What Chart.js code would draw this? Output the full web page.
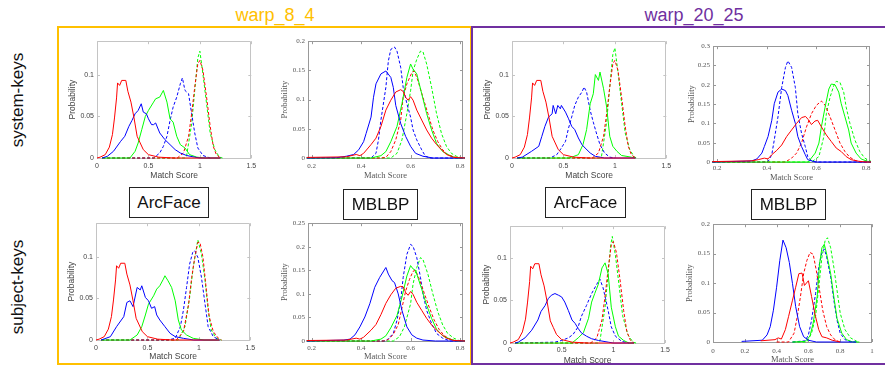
<!DOCTYPE html>
<html>
<head>
<meta charset="utf-8">
<script src="https://cdn.jsdelivr.net/npm/chart.js@4.4.1/dist/chart.umd.min.js"></script>
<style>
  body { margin: 0; width: 885px; height: 365px; background: #fff; position: relative; overflow: hidden;
         font-family: "Liberation Sans", Arial, sans-serif; }
  .abs { position: absolute; }
  .group { position: absolute; box-sizing: border-box; border: 2px solid; }
  .head { position: absolute; width: 200px; text-align: center; font-size: 18px; line-height: 22px; }
  .side { position: absolute; width: 140px; height: 22px; line-height: 22px; text-align: center;
          font-size: 17px; color: #111; transform: rotate(-90deg); }
  .tag { position: absolute; box-sizing: border-box; border: 1px solid #222; background: #fff;
         font-size: 17px; color: #111; text-align: center; z-index: 5; }
  canvas { position: absolute; }
</style>
</head>
<body>

<div class="group" style="left:57px;top:26px;width:415px;height:339px;border-color:#FFC000"></div>
<div class="group" style="left:471px;top:26px;width:430px;height:339px;border-color:#7030A0"></div>
<div class="head" style="left:175px;top:4px;color:#FFC000">warp_8_4</div>
<div class="head" style="left:594px;top:4px;color:#7030A0">warp_20_25</div>
<div class="side" style="left:-52px;top:89px">system-keys</div>
<div class="side" style="left:-52px;top:276px">subject-keys</div>
<div class="tag" style="left:129px;top:187px;width:80px;height:31px;line-height:29px">ArcFace</div>
<div class="tag" style="left:343px;top:189px;width:75px;height:31px;line-height:29px">MBLBP</div>
<div class="tag" style="left:545px;top:187px;width:81px;height:31px;line-height:29px">ArcFace</div>
<div class="tag" style="left:751px;top:189px;width:75px;height:31px;line-height:29px">MBLBP</div>

<script>
// Ticks
const arcXTicks = [0, 0.5, 1, 1.5];
const arcYTicks = [0, 0.05, 0.1];
const lbpXTicks = [0.2, 0.4, 0.6, 0.8];
const lbpXTicksWide = [0, 0.2, 0.4, 0.6, 0.8, 1];
const lbpYTicks20 = [0, 0.05, 0.1, 0.15, 0.2];
const lbpYTicks25 = [0, 0.05, 0.1, 0.15, 0.2, 0.25];
const lbpYTicks30 = [0, 0.05, 0.1, 0.15, 0.2, 0.25, 0.3];

// warp_8_4, system-keys, ArcFace
const a84sysRed = [[0,0],[0.03,0.001],[0.08,0.004],[0.12,0.013],[0.15,0.028],[0.17,0.048],[0.19,0.072],[0.2,0.09],[0.22,0.087],[0.24,0.093],[0.28,0.093],[0.3,0.08],[0.33,0.067],[0.36,0.048],[0.39,0.026],[0.42,0.018],[0.45,0.01],[0.5,0.004],[0.6,0.001],[0.75,0],[1.2,0]];
const a84sysBlue = [[0.05,0],[0.1,0.002],[0.16,0.008],[0.23,0.02],[0.27,0.026],[0.31,0.038],[0.34,0.045],[0.37,0.053],[0.4,0.057],[0.43,0.065],[0.45,0.055],[0.48,0.053],[0.5,0.047],[0.53,0.04],[0.55,0.04],[0.57,0.042],[0.61,0.03],[0.66,0.022],[0.71,0.016],[0.76,0.01],[0.81,0.006],[0.87,0.003],[0.95,0.001],[1.0,0],[1.2,0]];
const a84sysGreen = [[0.05,0],[0.32,0],[0.37,0.008],[0.4,0.018],[0.435,0.034],[0.47,0.05],[0.5,0.057],[0.55,0.067],[0.57,0.071],[0.61,0.073],[0.645,0.081],[0.68,0.067],[0.71,0.047],[0.74,0.043],[0.775,0.026],[0.81,0.016],[0.855,0.012],[0.9,0.004],[0.97,0.001],[1.05,0],[1.2,0]];
const a84sysRedD = [[0.05,0],[0.78,0],[0.84,0.006],[0.89,0.026],[0.92,0.053],[0.95,0.085],[0.98,0.113],[1.0,0.117],[1.03,0.105],[1.065,0.073],[1.1,0.038],[1.13,0.014],[1.16,0.004],[1.2,0]];
const a84sysBlueD = [[0.05,0],[0.55,0],[0.61,0.006],[0.645,0.014],[0.68,0.026],[0.71,0.045],[0.74,0.061],[0.775,0.073],[0.81,0.089],[0.83,0.096],[0.855,0.081],[0.89,0.077],[0.92,0.053],[0.95,0.03],[0.98,0.012],[1.03,0.003],[1.1,0]];
const a84sysGreenD = [[0.05,0],[0.85,0],[0.87,0.002],[0.92,0.041],[0.95,0.081],[0.98,0.12],[1.0,0.128],[1.03,0.1],[1.065,0.065],[1.1,0.03],[1.145,0.01],[1.19,0.001],[1.22,0]];

// warp_8_4, subject-keys, ArcFace
const a84subRed = [[0,0],[0.03,0.001],[0.08,0.004],[0.12,0.013],[0.15,0.028],[0.17,0.048],[0.19,0.072],[0.2,0.089],[0.22,0.086],[0.24,0.092],[0.28,0.092],[0.3,0.079],[0.33,0.066],[0.36,0.047],[0.39,0.026],[0.42,0.018],[0.45,0.01],[0.5,0.004],[0.6,0.001],[0.75,0],[1.2,0]];
const a84subBlue = [[0.05,0],[0.14,0.004],[0.2,0.016],[0.27,0.028],[0.3,0.045],[0.33,0.047],[0.36,0.04],[0.4,0.063],[0.43,0.06],[0.445,0.065],[0.48,0.051],[0.51,0.047],[0.54,0.038],[0.57,0.04],[0.59,0.03],[0.62,0.024],[0.67,0.016],[0.72,0.008],[0.77,0.004],[0.85,0.002],[0.95,0],[1.2,0]];
const a84subGreen = [[0.05,0],[0.33,0],[0.4,0.006],[0.445,0.016],[0.48,0.03],[0.51,0.043],[0.56,0.053],[0.59,0.061],[0.62,0.065],[0.655,0.073],[0.67,0.077],[0.7,0.071],[0.735,0.063],[0.77,0.047],[0.8,0.024],[0.83,0.012],[0.88,0.006],[0.945,0.002],[1.05,0],[1.2,0]];
const a84subRedD = [[0.05,0],[0.78,0],[0.85,0.01],[0.9,0.043],[0.93,0.075],[0.96,0.099],[0.99,0.117],[1.01,0.117],[1.04,0.099],[1.07,0.063],[1.1,0.028],[1.14,0.01],[1.19,0.002],[1.22,0]];
const a84subBlueD = [[0.05,0],[0.7,0],[0.77,0.002],[0.82,0.016],[0.85,0.036],[0.88,0.063],[0.91,0.091],[0.94,0.105],[0.96,0.107],[0.99,0.099],[1.025,0.075],[1.06,0.043],[1.09,0.016],[1.14,0.004],[1.2,0]];
const a84subGreenD = [[0.05,0],[0.8,0],[0.865,0.016],[0.91,0.051],[0.945,0.087],[0.98,0.113],[0.99,0.12],[1.025,0.103],[1.06,0.071],[1.09,0.036],[1.12,0.012],[1.17,0.002],[1.22,0]];

// warp_20_25, system-keys, ArcFace
const a2025sysRed = [[0,0],[0.03,0.001],[0.08,0.004],[0.12,0.013],[0.15,0.028],[0.17,0.048],[0.19,0.072],[0.2,0.09],[0.22,0.087],[0.24,0.093],[0.28,0.093],[0.3,0.08],[0.33,0.067],[0.36,0.048],[0.39,0.026],[0.42,0.018],[0.45,0.01],[0.5,0.004],[0.6,0.001],[0.75,0],[1.2,0]];
const a2025sysBlue = [[0.05,0],[0.1,0.001],[0.19,0.008],[0.26,0.014],[0.29,0.026],[0.32,0.038],[0.355,0.049],[0.39,0.053],[0.4,0.063],[0.425,0.053],[0.445,0.063],[0.47,0.059],[0.48,0.063],[0.52,0.055],[0.55,0.047],[0.58,0.038],[0.61,0.034],[0.645,0.024],[0.68,0.016],[0.71,0.012],[0.76,0.006],[0.81,0.002],[0.9,0],[1.2,0]];
const a2025sysGreen = [[0.05,0],[0.55,0],[0.58,0.001],[0.645,0.004],[0.69,0.016],[0.725,0.034],[0.76,0.065],[0.79,0.077],[0.81,0.1],[0.84,0.093],[0.855,0.103],[0.89,0.083],[0.92,0.061],[0.95,0.026],[0.98,0.014],[1.02,0.008],[1.065,0.003],[1.16,0.001],[1.2,0]];
const a2025sysRedD = [[0.05,0],[0.78,0],[0.84,0.006],[0.89,0.026],[0.92,0.053],[0.95,0.085],[0.98,0.113],[1.0,0.117],[1.03,0.105],[1.065,0.073],[1.1,0.038],[1.13,0.014],[1.16,0.004],[1.2,0]];
const a2025sysBlueD = [[0.05,0],[0.37,0],[0.435,0.004],[0.48,0.012],[0.52,0.02],[0.55,0.036],[0.58,0.049],[0.61,0.063],[0.645,0.073],[0.68,0.079],[0.7,0.085],[0.725,0.079],[0.76,0.057],[0.79,0.043],[0.82,0.03],[0.855,0.016],[0.9,0.006],[0.95,0.001],[1.0,0]];
const a2025sysGreenD = [[0.05,0],[0.85,0],[0.87,0.002],[0.92,0.043],[0.95,0.085],[0.98,0.124],[1.0,0.132],[1.03,0.103],[1.065,0.066],[1.1,0.03],[1.145,0.01],[1.19,0.001],[1.22,0]];

// warp_20_25, subject-keys, ArcFace
const a2025subRed = [[0,0],[0.03,0.001],[0.08,0.004],[0.12,0.013],[0.15,0.028],[0.17,0.048],[0.19,0.072],[0.2,0.09],[0.22,0.087],[0.24,0.093],[0.28,0.093],[0.3,0.08],[0.33,0.067],[0.36,0.048],[0.39,0.026],[0.42,0.018],[0.45,0.01],[0.5,0.004],[0.6,0.001],[0.75,0],[1.2,0]];
const a2025subBlue = [[0.05,0],[0.08,0.001],[0.145,0.006],[0.21,0.015],[0.27,0.027],[0.3,0.037],[0.34,0.044],[0.37,0.052],[0.4,0.056],[0.435,0.058],[0.47,0.056],[0.5,0.054],[0.53,0.048],[0.565,0.038],[0.6,0.027],[0.63,0.023],[0.66,0.017],[0.69,0.012],[0.74,0.008],[0.79,0.005],[0.855,0.003],[0.95,0.001],[1.0,0],[1.2,0]];
const a2025subGreen = [[0.05,0],[0.6,0],[0.66,0.006],[0.71,0.012],[0.76,0.029],[0.79,0.048],[0.82,0.058],[0.855,0.069],[0.89,0.088],[0.92,0.094],[0.95,0.081],[0.98,0.042],[1.02,0.019],[1.05,0.008],[1.1,0.003],[1.15,0],[1.2,0]];
const a2025subRedD = [[0.05,0],[0.78,0],[0.84,0.006],[0.89,0.027],[0.92,0.055],[0.95,0.087],[0.98,0.115],[1.0,0.119],[1.03,0.106],[1.065,0.074],[1.1,0.038],[1.13,0.014],[1.16,0.004],[1.2,0]];
const a2025subBlueD = [[0.05,0],[0.435,0.001],[0.5,0.003],[0.565,0.006],[0.61,0.01],[0.66,0.019],[0.69,0.031],[0.74,0.044],[0.79,0.058],[0.84,0.069],[0.87,0.075],[0.9,0.065],[0.925,0.052],[0.95,0.038],[0.98,0.019],[1.02,0.008],[1.08,0.002],[1.15,0]];
const a2025subGreenD = [[0.05,0],[0.85,0],[0.87,0.002],[0.92,0.042],[0.95,0.082],[0.975,0.115],[0.99,0.125],[1.02,0.103],[1.055,0.068],[1.09,0.032],[1.14,0.01],[1.19,0.001],[1.22,0]];

// warp_8_4, system-keys, MBLBP
const m84sysRed = [[0.18,0.001],[0.34,0.002],[0.38,0.006],[0.395,0.004],[0.41,0.008],[0.44,0.023],[0.46,0.034],[0.48,0.054],[0.5,0.082],[0.52,0.099],[0.54,0.113],[0.56,0.117],[0.57,0.114],[0.58,0.104],[0.59,0.099],[0.6,0.105],[0.61,0.099],[0.625,0.082],[0.645,0.065],[0.665,0.048],[0.685,0.034],[0.705,0.023],[0.725,0.014],[0.745,0.006],[0.775,0.001],[0.82,0]];
const m84sysBlue = [[0.18,0],[0.3,0.0005],[0.34,0.003],[0.37,0.006],[0.39,0.014],[0.41,0.028],[0.42,0.042],[0.44,0.07],[0.45,0.104],[0.46,0.127],[0.48,0.144],[0.5,0.149],[0.52,0.138],[0.53,0.121],[0.54,0.09],[0.56,0.059],[0.58,0.037],[0.6,0.02],[0.62,0.008],[0.65,0.003],[0.69,0],[0.82,0]];
const m84sysGreen = [[0.18,0],[0.44,0],[0.48,0.004],[0.5,0.011],[0.52,0.028],[0.545,0.054],[0.565,0.093],[0.585,0.138],[0.6,0.161],[0.61,0.152],[0.625,0.144],[0.645,0.11],[0.665,0.076],[0.685,0.048],[0.705,0.025],[0.73,0.011],[0.76,0.004],[0.785,0],[0.82,0]];
const m84sysRedD = [[0.18,0],[0.48,0],[0.5,0.001],[0.52,0.011],[0.54,0.031],[0.56,0.065],[0.57,0.104],[0.585,0.127],[0.605,0.146],[0.615,0.149],[0.63,0.132],[0.65,0.104],[0.67,0.076],[0.69,0.048],[0.71,0.028],[0.73,0.014],[0.75,0.006],[0.775,0.002],[0.8,0],[0.82,0]];
const m84sysBlueD = [[0.18,0],[0.44,0],[0.46,0.008],[0.47,0.031],[0.48,0.065],[0.5,0.121],[0.51,0.166],[0.52,0.186],[0.535,0.19],[0.545,0.183],[0.56,0.155],[0.57,0.121],[0.585,0.093],[0.6,0.07],[0.61,0.048],[0.625,0.031],[0.645,0.014],[0.66,0.003],[0.68,0],[0.82,0]];
const m84sysGreenD = [[0.18,0],[0.52,0],[0.545,0.008],[0.565,0.031],[0.585,0.076],[0.6,0.115],[0.61,0.149],[0.625,0.169],[0.64,0.183],[0.65,0.182],[0.665,0.161],[0.685,0.121],[0.705,0.076],[0.725,0.042],[0.745,0.02],[0.765,0.008],[0.785,0.003],[0.81,0],[0.82,0]];

// warp_8_4, subject-keys, MBLBP
const m84subRed = [[0.18,0.001],[0.34,0.002],[0.38,0.006],[0.395,0.004],[0.41,0.008],[0.44,0.023],[0.46,0.035],[0.48,0.056],[0.5,0.08],[0.52,0.098],[0.54,0.112],[0.56,0.116],[0.57,0.115],[0.58,0.103],[0.59,0.097],[0.6,0.105],[0.61,0.099],[0.625,0.082],[0.645,0.065],[0.665,0.048],[0.685,0.034],[0.705,0.023],[0.725,0.014],[0.745,0.006],[0.775,0.001],[0.82,0]];
const m84subBlue = [[0.18,0],[0.33,0.002],[0.355,0.004],[0.375,0.013],[0.395,0.03],[0.415,0.051],[0.435,0.079],[0.455,0.114],[0.475,0.135],[0.5,0.156],[0.51,0.142],[0.525,0.128],[0.535,0.124],[0.55,0.1],[0.565,0.065],[0.585,0.03],[0.605,0.013],[0.625,0.006],[0.65,0.002],[0.7,0],[0.82,0]];
const m84subGreen = [[0.18,0],[0.44,0],[0.48,0.004],[0.5,0.011],[0.52,0.028],[0.545,0.054],[0.565,0.093],[0.585,0.138],[0.6,0.16],[0.61,0.153],[0.62,0.15],[0.645,0.11],[0.665,0.076],[0.685,0.048],[0.705,0.025],[0.73,0.011],[0.76,0.004],[0.785,0],[0.82,0]];
const m84subRedD = [[0.18,0],[0.49,0],[0.51,0.003],[0.53,0.014],[0.55,0.035],[0.565,0.07],[0.58,0.106],[0.595,0.13],[0.61,0.148],[0.62,0.15],[0.635,0.132],[0.655,0.102],[0.675,0.072],[0.695,0.045],[0.715,0.025],[0.735,0.012],[0.755,0.005],[0.78,0.001],[0.82,0]];
const m84subBlueD = [[0.18,0],[0.5,0],[0.53,0.016],[0.545,0.044],[0.56,0.086],[0.57,0.135],[0.585,0.184],[0.6,0.205],[0.61,0.201],[0.625,0.177],[0.64,0.135],[0.65,0.1],[0.665,0.065],[0.685,0.037],[0.705,0.016],[0.73,0.006],[0.76,0],[0.82,0]];
const m84subGreenD = [[0.18,0],[0.53,0],[0.555,0.009],[0.575,0.03],[0.6,0.079],[0.61,0.121],[0.625,0.156],[0.64,0.177],[0.65,0.173],[0.67,0.142],[0.69,0.1],[0.71,0.062],[0.73,0.034],[0.75,0.016],[0.775,0.006],[0.8,0],[0.82,0]];

// warp_20_25, system-keys, MBLBP
const m2025sysRed = [[0.18,0.001],[0.34,0.003],[0.365,0.006],[0.39,0.01],[0.405,0.008],[0.42,0.019],[0.44,0.03],[0.46,0.044],[0.48,0.066],[0.5,0.083],[0.52,0.1],[0.54,0.115],[0.556,0.118],[0.567,0.11],[0.58,0.097],[0.594,0.106],[0.605,0.108],[0.62,0.091],[0.64,0.07],[0.66,0.053],[0.68,0.036],[0.7,0.027],[0.72,0.014],[0.74,0.006],[0.77,0.002],[0.8,0],[0.82,0]];
const m2025sysBlue = [[0.18,0],[0.3,0.002],[0.34,0.003],[0.36,0.008],[0.38,0.023],[0.39,0.04],[0.405,0.066],[0.42,0.108],[0.43,0.151],[0.445,0.181],[0.46,0.189],[0.475,0.185],[0.485,0.172],[0.5,0.134],[0.515,0.1],[0.525,0.066],[0.54,0.04],[0.555,0.019],[0.565,0.006],[0.595,0],[0.82,0]];
const m2025sysGreen = [[0.18,0],[0.567,0],[0.595,0.023],[0.61,0.049],[0.62,0.091],[0.635,0.142],[0.65,0.189],[0.66,0.202],[0.675,0.2],[0.69,0.181],[0.7,0.151],[0.715,0.117],[0.73,0.083],[0.74,0.049],[0.76,0.023],[0.78,0.008],[0.8,0.003],[0.815,0],[0.82,0]];
const m2025sysRedD = [[0.18,0],[0.475,0],[0.5,0.01],[0.52,0.023],[0.54,0.049],[0.56,0.091],[0.58,0.125],[0.6,0.147],[0.62,0.158],[0.635,0.147],[0.655,0.117],[0.675,0.083],[0.695,0.049],[0.715,0.027],[0.735,0.012],[0.76,0.003],[0.78,0],[0.82,0]];
const m2025sysBlueD = [[0.18,0],[0.4,0],[0.405,0.001],[0.42,0.019],[0.43,0.057],[0.445,0.117],[0.46,0.193],[0.475,0.245],[0.485,0.262],[0.5,0.245],[0.515,0.193],[0.525,0.125],[0.54,0.074],[0.555,0.04],[0.565,0.014],[0.58,0.004],[0.6,0],[0.82,0]];
const m2025sysGreenD = [[0.18,0],[0.58,0],[0.61,0.014],[0.63,0.066],[0.64,0.125],[0.655,0.168],[0.67,0.198],[0.68,0.209],[0.695,0.206],[0.71,0.181],[0.72,0.142],[0.735,0.1],[0.755,0.057],[0.775,0.027],[0.795,0.01],[0.815,0.003],[0.82,0.002]];

// warp_20_25, subject-keys, MBLBP
const m2025subRed = [[0.3,0.002],[0.39,0.004],[0.41,0.007],[0.43,0.005],[0.455,0.021],[0.475,0.043],[0.5,0.071],[0.52,0.093],[0.54,0.116],[0.56,0.117],[0.575,0.096],[0.6,0.104],[0.62,0.077],[0.645,0.043],[0.665,0.021],[0.685,0.009],[0.715,0.007],[0.75,0.003],[0.8,0]];
const m2025subBlue = [[0.18,0.001],[0.31,0.003],[0.34,0.012],[0.36,0.026],[0.38,0.054],[0.4,0.093],[0.42,0.138],[0.44,0.173],[0.46,0.16],[0.48,0.135],[0.5,0.099],[0.52,0.06],[0.545,0.026],[0.57,0.009],[0.6,0.003],[0.65,0],[0.9,0]];
const m2025subGreen = [[0.5,0],[0.58,0.001],[0.61,0.01],[0.63,0.032],[0.655,0.077],[0.67,0.132],[0.685,0.16],[0.7,0.166],[0.715,0.149],[0.74,0.116],[0.76,0.077],[0.78,0.04],[0.81,0.015],[0.84,0.004],[0.88,0],[0.92,0]];
const m2025subRedD = [[0.4,0],[0.475,0],[0.51,0.015],[0.53,0.043],[0.55,0.077],[0.57,0.116],[0.59,0.138],[0.61,0.152],[0.63,0.149],[0.65,0.121],[0.67,0.088],[0.69,0.054],[0.715,0.026],[0.74,0.012],[0.77,0.003],[0.8,0]];
const m2025subBlueD = [[0.5,0],[0.58,0.002],[0.6,0.012],[0.62,0.037],[0.645,0.082],[0.665,0.127],[0.685,0.152],[0.7,0.158],[0.715,0.144],[0.74,0.11],[0.76,0.071],[0.78,0.037],[0.8,0.015],[0.83,0.004],[0.87,0],[0.9,0]];
const m2025subGreenD = [[0.5,0],[0.59,0],[0.62,0.015],[0.645,0.043],[0.665,0.093],[0.685,0.144],[0.705,0.172],[0.72,0.177],[0.74,0.16],[0.76,0.127],[0.78,0.088],[0.8,0.049],[0.83,0.021],[0.865,0.007],[0.905,0.001],[0.92,0]];

// cadre + petites graduations vers l'intérieur (style matlab)
const framePlugin = {
  id: 'frame',
  beforeDatasetsDraw(chart, args, opts) {
    const { ctx, chartArea: a, scales } = chart;
    ctx.save();
    ctx.strokeStyle = opts.color;
    ctx.lineWidth = 1;
    ctx.beginPath();
    ctx.rect(Math.round(a.left) + 0.5, Math.round(a.top) + 0.5, Math.round(a.right - a.left) - 1, Math.round(a.bottom - a.top));
    scales.x.ticks.forEach(t => {
      const px = Math.round(scales.x.getPixelForValue(t.value)) + 0.5;
      ctx.moveTo(px, a.bottom); ctx.lineTo(px, a.bottom - 3);
      ctx.moveTo(px, a.top); ctx.lineTo(px, a.top + 3);
    });
    scales.y.ticks.forEach(t => {
      const py = Math.round(scales.y.getPixelForValue(t.value)) + 0.5;
      ctx.moveTo(a.left, py); ctx.lineTo(a.left + 3, py);
      ctx.moveTo(a.right, py); ctx.lineTo(a.right - 3, py);
    });
    ctx.stroke();
    ctx.restore();
  }
};

const fmt = v => String(Math.round(v * 1000) / 1000);

function series(red, blue, green, redD, blueD, greenD) {
  const mk = (data, color, dashed) => ({
    data: data.map(p => ({ x: p[0], y: p[1] })),
    borderColor: color, borderWidth: 1, borderDash: dashed ? [3, 2] : [],
    pointRadius: 0, fill: false, tension: 0, clip: 3
  });
  return [mk(red, '#ff0000'), mk(blue, '#0000ff'), mk(green, '#00ff00'),
          mk(redD, '#ff0000', true), mk(blueD, '#0000ff', true), mk(greenD, '#00ff00', true)];
}

function makeChart(c) {
  const serif = c.serif;
  const family = serif ? '"Liberation Serif", "Times New Roman", serif' : '"Liberation Sans", Arial, sans-serif';
  const tickSize = 7;
  const titleSize = serif ? 8.5 : 8.5;
  const textColor = serif ? '#555' : '#444';
  const lh = titleSize * 1.2;
  const left = Math.round(c.yTitleX - lh / 2);
  const top = c.frame.t - 6;
  const bottom = Math.round(c.xTitleY + lh / 2);
  const padRight = 8;
  const yw = c.frame.l - left;
  const xh = bottom - c.frame.b;
  const canvas = document.createElement('canvas');
  canvas.width = c.frame.r - left + padRight;
  canvas.height = bottom - top;
  canvas.style.left = left + 'px';
  canvas.style.top = top + 'px';
  document.body.appendChild(canvas);

  new Chart(canvas, {
    type: 'line',
    data: { datasets: c.datasets },
    plugins: [framePlugin],
    options: {
      responsive: false,
      animation: false,
      events: [],
      layout: { padding: { top: 6, right: padRight, left: 0, bottom: 0 } },
      plugins: { legend: { display: false }, tooltip: { enabled: false }, frame: { color: serif ? '#999' : '#c4c4c4' } },
      scales: {
        x: {
          type: 'linear', min: c.xMin, max: c.xMax,
          afterFit: s => { s.height = xh; },
          afterBuildTicks: s => { s.ticks = c.xTicks.map(v => ({ value: v })); },
          grid: { display: false, drawTicks: false },
          border: { display: false },
          ticks: { autoSkip: false, maxRotation: 0, padding: c.xLabelY - c.frame.b - tickSize * 0.6,
                   color: textColor, font: { family, size: tickSize }, callback: v => fmt(v) },
          title: { display: true, text: 'Match Score', padding: 0, color: textColor, font: { family, size: titleSize } }
        },
        y: {
          type: 'linear', min: 0, max: c.yMax,
          afterFit: s => { s.width = yw; },
          afterBuildTicks: s => { s.ticks = c.yTicks.map(v => ({ value: v })); },
          grid: { display: false, drawTicks: false },
          border: { display: false },
          ticks: { autoSkip: false, padding: 3, color: textColor, font: { family, size: tickSize }, callback: v => fmt(v) },
          title: { display: true, text: 'Probability', padding: 0, color: textColor, font: { family, size: titleSize } }
        }
      }
    }
  });
}

makeChart({ frame: { l: 97, t: 40, r: 252, b: 158 }, yTitleX: 73, xLabelY: 166, xTitleY: 176,
  xMin: 0, xMax: 1.5, yMax: 0.14, xTicks: arcXTicks, yTicks: arcYTicks,
  datasets: series(a84sysRed, a84sysBlue, a84sysGreen, a84sysRedD, a84sysBlueD, a84sysGreenD) });

makeChart({ frame: { l: 96, t: 222, r: 251, b: 340 }, yTitleX: 72, xLabelY: 348, xTitleY: 357,
  xMin: 0, xMax: 1.5, yMax: 0.14, xTicks: arcXTicks, yTicks: arcYTicks,
  datasets: series(a84subRed, a84subBlue, a84subGreen, a84subRedD, a84subBlueD, a84subGreenD) });

makeChart({ frame: { l: 512, t: 40, r: 667, b: 158 }, yTitleX: 488, xLabelY: 166, xTitleY: 176,
  xMin: 0, xMax: 1.5, yMax: 0.14, xTicks: arcXTicks, yTicks: arcYTicks,
  datasets: series(a2025sysRed, a2025sysBlue, a2025sysGreen, a2025sysRedD, a2025sysBlueD, a2025sysGreenD) });

makeChart({ frame: { l: 510, t: 225, r: 665, b: 343 }, yTitleX: 487, xLabelY: 350, xTitleY: 361,
  xMin: 0, xMax: 1.5, yMax: 0.137, xTicks: arcXTicks, yTicks: arcYTicks,
  datasets: series(a2025subRed, a2025subBlue, a2025subGreen, a2025subRedD, a2025subBlueD, a2025subGreenD) });

makeChart({ serif: true, frame: { l: 308, t: 40, r: 463, b: 158 }, yTitleX: 285, xLabelY: 166, xTitleY: 176,
  xMin: 0.185, xMax: 0.812, yMax: 0.2, xTicks: lbpXTicks, yTicks: lbpYTicks20,
  datasets: series(m84sysRed, m84sysBlue, m84sysGreen, m84sysRedD, m84sysBlueD, m84sysGreenD) });

makeChart({ serif: true, frame: { l: 308, t: 222, r: 463, b: 341 }, yTitleX: 285, xLabelY: 348, xTitleY: 357,
  xMin: 0.185, xMax: 0.812, yMax: 0.25, xTicks: lbpXTicks, yTicks: lbpYTicks25,
  datasets: series(m84subRed, m84subBlue, m84subGreen, m84subRedD, m84subBlueD, m84subGreenD) });

makeChart({ serif: true, frame: { l: 713, t: 45, r: 870, b: 162 }, yTitleX: 692, xLabelY: 168, xTitleY: 178,
  xMin: 0.183, xMax: 0.816, yMax: 0.3, xTicks: lbpXTicks, yTicks: lbpYTicks30,
  datasets: series(m2025sysRed, m2025sysBlue, m2025sysGreen, m2025sysRedD, m2025sysBlueD, m2025sysGreenD) });

makeChart({ serif: true, frame: { l: 713, t: 223, r: 872, b: 342 }, yTitleX: 690, xLabelY: 351, xTitleY: 360,
  xMin: 0, xMax: 1, yMax: 0.2, xTicks: lbpXTicksWide, yTicks: lbpYTicks20,
  datasets: series(m2025subRed, m2025subBlue, m2025subGreen, m2025subRedD, m2025subBlueD, m2025subGreenD) });
</script>
</body>
</html>
